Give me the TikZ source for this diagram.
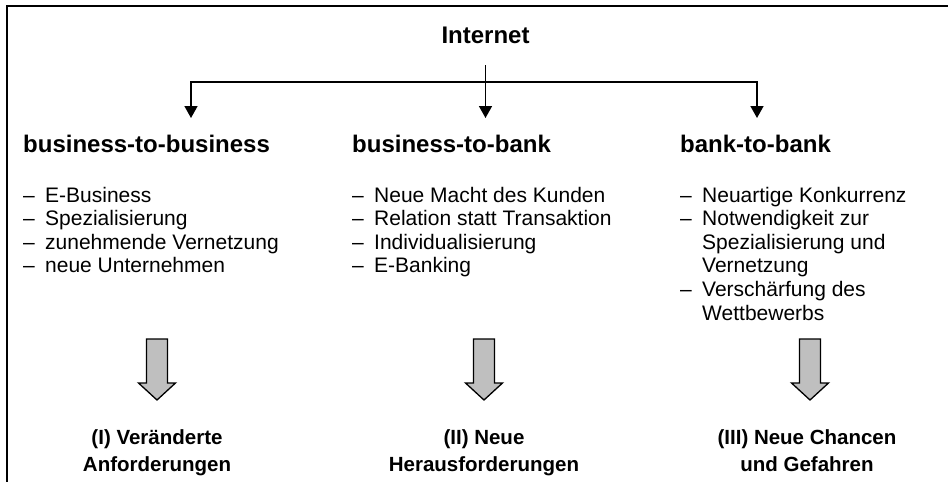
\documentclass[tikz,border=0pt]{standalone}
\usepackage{fontspec}
\setmainfont{Liberation Sans}
\usetikzlibrary{arrows.meta}

\newcommand{\listline}[1]{\makebox[22pt][l]{–}#1}
\newcommand{\listcont}[1]{\hspace*{22pt}#1}

\begin{document}
\begin{tikzpicture}[x=1pt,y=-1pt,
  heading/.style={anchor=base west,inner sep=0pt,font=\fontsize{24}{28}\selectfont\bfseries},
  itemlist/.style={anchor=base west,inner sep=0pt,font=\fontsize{21}{23.6}\selectfont},
  result/.style={anchor=base,inner sep=0pt,font=\fontsize{20.5}{27}\selectfont\bfseries},
  link/.style={line width=1.6pt,line join=miter},
  tip/.style={-{Triangle[length=12pt,width=13pt]}},
  bigarrow/.style={draw=black,line width=1.3pt,fill=black!25,line join=miter}
]
\useasboundingbox (0,0) rectangle (948,482);

% open frame: top and left edges only
\draw[line width=2pt] (7,482) -- (7,6) -- (948,6);

% root
\node[anchor=base,inner sep=0pt,font=\fontsize{24}{28}\selectfont\bfseries]
  (internet) at (485.5,43) {Internet};

% three branches
\node[heading] (b2b)   at (23,152)  {business-to-business};
\node[heading] (b2bk)  at (352,152) {business-to-bank};
\node[heading] (bk2bk) at (680,152) {bank-to-bank};

\coordinate (t1) at (191,118);
\coordinate (t2) at (485.5,118);
\coordinate (t3) at (757,118);
\coordinate (hubL) at (191,82);
\coordinate (hubR) at (757,82);

\draw[link,tip] ([yshift=-22pt]internet.base) -- (t2);
\draw[link,{Triangle[length=12pt,width=13pt]}-{Triangle[length=12pt,width=13pt]}]
  (t1) -- (hubL) -- (hubR) -- (t3);

% bullet lists
\node[itemlist] (l1) at (23,202) {\begin{tabular}[t]{@{}l@{}}
  \listline{E-Business}\\
  \listline{Spezialisierung}\\
  \listline{zunehmende Vernetzung}\\
  \listline{neue Unternehmen}
\end{tabular}};
\node[itemlist] (l2) at (352,202) {\begin{tabular}[t]{@{}l@{}}
  \listline{Neue Macht des Kunden}\\
  \listline{Relation statt Transaktion}\\
  \listline{Individualisierung}\\
  \listline{E-Banking}
\end{tabular}};
\node[itemlist] (l3) at (680,202) {\begin{tabular}[t]{@{}l@{}}
  \listline{Neuartige Konkurrenz}\\
  \listline{Notwendigkeit zur}\\
  \listcont{Spezialisierung und}\\
  \listcont{Vernetzung}\\
  \listline{Verschärfung des}\\
  \listcont{Wettbewerbs}
\end{tabular}};

% consequences
\node[result] (r1) at (157,444.5) {\begin{tabular}[t]{@{}c@{}}(I) Veränderte\\Anforderungen\end{tabular}};
\node[result] (r2) at (484,444.5) {\begin{tabular}[t]{@{}c@{}}(II) Neue\\Herausforderungen\end{tabular}};
\node[result] (r3) at (807,444.5) {\begin{tabular}[t]{@{}c@{}}(III) Neue Chancen\\und Gefahren\end{tabular}};

% grey block arrows
\foreach \cx in {157,484,810}{
  \draw[bigarrow] (\cx-10.5,339) -- (\cx+10.5,339) -- (\cx+10.5,383) -- (\cx+18.5,383)
    -- (\cx,400) -- (\cx-18.5,383) -- (\cx-10.5,383) -- cycle;
}
\end{tikzpicture}
\end{document}
